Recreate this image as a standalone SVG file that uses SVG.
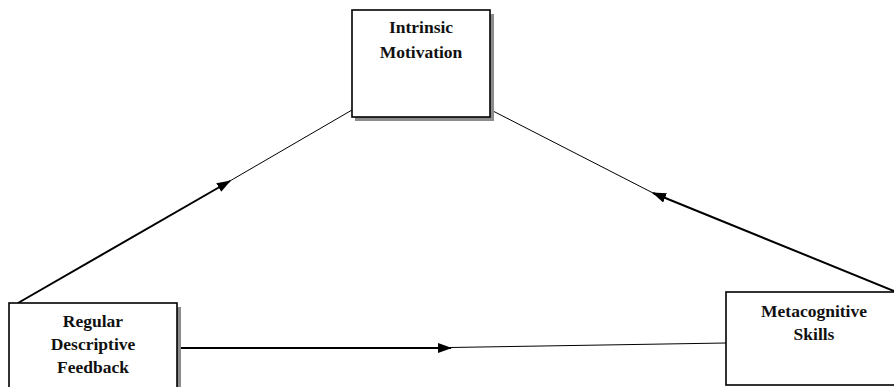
<svg xmlns="http://www.w3.org/2000/svg" width="894" height="387" viewBox="0 0 894 387">
  <style>
    .box { fill: #ffffff; stroke: #000000; stroke-width: 1.6; }
    .shadow { fill: #8c8c8c; }
    .label { font-family: "Liberation Serif", "Times New Roman", serif; font-weight: bold; font-size: 17.5px; fill: #111111; text-anchor: middle; }
    .thick { stroke: #000000; stroke-width: 2; fill: none; }
    .thin { stroke: #000000; stroke-width: 1; fill: none; }
  </style>
  <defs>
    <marker id="arrow" viewBox="0 0 14 10" refX="13" refY="5" markerWidth="14" markerHeight="10" markerUnits="userSpaceOnUse" orient="auto">
      <path d="M0,0 L14,5 L0,10 Z" fill="#000000"/>
    </marker>
  </defs>
  <rect width="894" height="387" fill="#ffffff"/>

  <g id="connectors">
    <line class="thick" x1="18" y1="303" x2="230" y2="181" marker-end="url(#arrow)"/>
    <line class="thin" x1="229" y1="181.5" x2="352" y2="110"/>
    <line class="thick" x1="894" y1="291" x2="653" y2="193" marker-end="url(#arrow)"/>
    <line class="thin" x1="654" y1="193.5" x2="491" y2="110"/>
    <line class="thick" x1="181" y1="348" x2="451" y2="348" marker-end="url(#arrow)"/>
    <line class="thin" x1="450" y1="347.5" x2="726" y2="343"/>
  </g>

  <g id="intrinsic-motivation">
    <rect class="shadow" x="355" y="14" width="139" height="107"/>
    <rect class="box" x="352" y="10" width="138" height="107"/>
    <text class="label" x="421" y="33">Intrinsic</text>
    <text class="label" x="421" y="58">Motivation</text>
  </g>

  <g id="regular-descriptive-feedback">
    <rect class="shadow" x="13" y="307" width="168" height="90"/>
    <rect class="box" x="9" y="303" width="168" height="90"/>
    <text class="label" x="93" y="327">Regular</text>
    <text class="label" x="93" y="350">Descriptive</text>
    <text class="label" x="93" y="373">Feedback</text>
  </g>

  <g id="metacognitive-skills">
    <rect class="box" x="726" y="292" width="176" height="93"/>
    <text class="label" x="814" y="317">Metacognitive</text>
    <text class="label" x="814" y="340">Skills</text>
  </g>
</svg>
